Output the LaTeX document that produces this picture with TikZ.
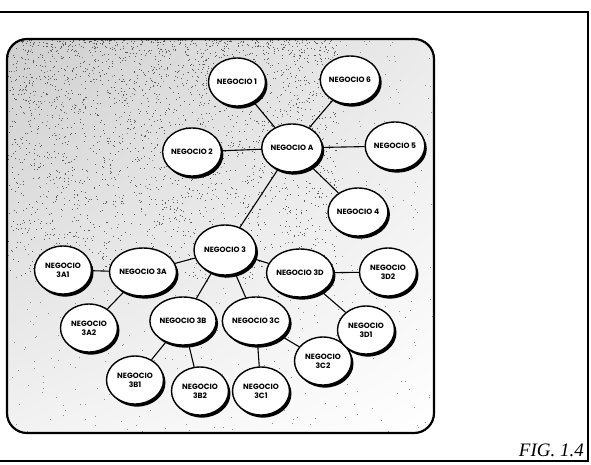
\documentclass[tikz,border=0pt]{standalone}
\usepackage{fontspec}
\setmainfont{Liberation Serif}
\newfontfamily\nodefont{Poppins}
\usetikzlibrary{shapes.geometric,shadows,shadings}
\pgfdeclarelayer{bg}
\pgfsetlayers{bg,main}
\tikzset{
  biz/.style={ellipse, draw=black, line width=1.4pt, fill=white,
    minimum width=57pt, minimum height=48pt, inner sep=0pt, align=center,
    font=\nodefont\bfseries\fontsize{7.6}{8.8}\selectfont,
    drop shadow={shadow xshift=2pt, shadow yshift=-2.6pt, fill=black, opacity=1}},
  link/.style={line width=1.1pt},
  frameline/.style={line width=1.8pt},
  panel/.style={line width=2.2pt, rounded corners=20pt},
  caption/.style={font=\itshape\fontsize{19}{19}\selectfont, inner sep=0pt},
}
\begin{document}
\begin{tikzpicture}[x=1pt,y=-1pt]
\useasboundingbox (0,0) rectangle (591,464);

% business units
\node[biz] (A)   at (292,148) {NEGOCIO A};
\node[biz] (n1)  at (237,82)  {NEGOCIO 1};
\node[biz] (n6)  at (350,80)  {NEGOCIO 6};
\node[biz] (n2)  at (192,152) {NEGOCIO 2};
\node[biz] (n5)  at (395,146) {NEGOCIO 5};
\node[biz] (n4)  at (358,212) {NEGOCIO 4};
\node[biz, minimum width=62pt, minimum height=50pt] (n3) at (225,250) {NEGOCIO 3};
\node[biz, minimum width=60pt] (n3a)  at (143,272) {NEGOCIO 3A};
\node[biz] (n3a1) at (63,270)  {NEGOCIO\\3A1};
\node[biz] (n3a2) at (89,328)  {NEGOCIO\\3A2};
\node[biz] (n3b)  at (183,321) {NEGOCIO 3B};
\node[biz] (n3b1) at (135,380) {NEGOCIO\\3B1};
\node[biz] (n3b2) at (200,391) {NEGOCIO\\3B2};
\node[biz] (n3c)  at (256,321) {NEGOCIO 3C};
\node[biz] (n3c1) at (261,391) {NEGOCIO\\3C1};
\node[biz] (n3c2) at (323,361) {NEGOCIO\\3C2};
\node[biz] (n3d)  at (300,273) {NEGOCIO 3D};
\node[biz] (n3d2) at (388,272) {NEGOCIO\\3D2};
\node[biz] (n3d1) at (366,330) {NEGOCIO\\3D1};

\begin{pgfonlayer}{bg}
  \fill[white] (0,0) rectangle (591,464);
  % stippled panel background
  \begin{scope}
    \clip[rounded corners=20pt] (7,39) rectangle (434,433);
    \shade[upper left=gray!38, upper right=gray!16, lower left=gray!10, lower right=white]
      (7,39) rectangle (434,433);
    \pgfmathsetseed{4242}
    \foreach \i in {1,...,2600}{
      \pgfmathsetmacro{\xx}{7+330*rnd}
      \pgfmathsetmacro{\yy}{39+240*rnd^1.6}
      \fill[black!65] (\xx,\yy) rectangle ++(0.9,0.9);
    }
    \foreach \i in {1,...,700}{
      \pgfmathsetmacro{\xx}{7+427*rnd}
      \pgfmathsetmacro{\yy}{39+394*rnd}
      \fill[black!45] (\xx,\yy) rectangle ++(0.9,0.9);
    }
  \end{scope}
  % connections
  \draw[link] (A) -- (n1);
  \draw[link] (A) -- (n6);
  \draw[link] (A) -- (n2);
  \draw[link] (A) -- (n5);
  \draw[link] (A) -- (n4);
  \draw[link] (A) -- (n3);
  \draw[link] (n3) -- (n3a);
  \draw[link] (n3) -- (n3b);
  \draw[link] (n3) -- (n3c);
  \draw[link] (n3) -- (n3d);
  \draw[link] (n3a) -- (n3a1);
  \draw[link] (n3a) -- (n3a2);
  \draw[link] (n3b) -- (n3b1);
  \draw[link] (n3b) -- (n3b2);
  \draw[link] (n3c) -- (n3c1);
  \draw[link] (n3c) -- (n3c2);
  \draw[link] (n3d) -- (n3d2);
  \draw[link] (n3d) -- (n3d1);
\end{pgfonlayer}

% panel outline and outer frame
\draw[panel] (7,39) rectangle (434,433);
\draw[frameline] (0,12) -- (588,12) -- (588,461) -- (0,461);

\node[caption, anchor=base east] (fig) at (584,456) {FIG. 1.4};
\end{tikzpicture}
\end{document}
